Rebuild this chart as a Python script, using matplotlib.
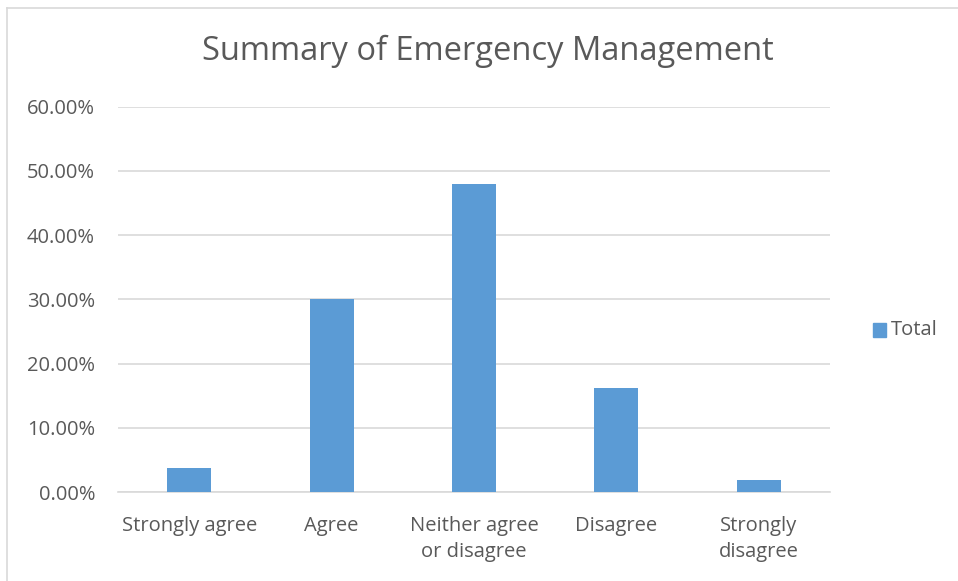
import matplotlib.pyplot as plt
from matplotlib.patches import Rectangle
from matplotlib.ticker import FuncFormatter

# survey responses (share of respondents)
categories = ["Strongly agree", "Agree", "Neither agree\nor disagree", "Disagree", "Strongly\ndisagree"]
totals = [0.037, 0.301, 0.479, 0.162, 0.018]
yticks = [0.0, 0.1, 0.2, 0.3, 0.4, 0.5, 0.6]

bar_color = "#5b9bd5"
text_color = "#595959"
grid_color = "#d9d9d9"

plt.rcParams["font.family"] = ["Open Sans", "DejaVu Sans"]

fig = plt.figure(figsize=(9.58, 5.81), dpi=100)
ax = fig.add_axes([118 / 958, 1 - 492 / 581, 712 / 958, (492 - 106.8) / 581])

x = range(len(categories))
bars = ax.bar(x, totals, width=0.31, color=bar_color, label="Total", zorder=3)

ax.set_xlim(-0.5, len(categories) - 0.5)
ax.set_ylim(0, 0.6)
ax.set_yticks(yticks)
ax.yaxis.set_major_formatter(FuncFormatter(lambda v, p: f"{v * 100:.2f}%"))
ax.set_xticks(list(x))
ax.set_xticklabels(categories, linespacing=1.45)
ax.tick_params(axis="both", length=0, colors=text_color, labelsize=14.5)
ax.tick_params(axis="x", pad=17)
ax.tick_params(axis="y", pad=16.5)
ax.grid(axis="y", color=grid_color, linewidth=1.2, zorder=0)
for s in ["top", "right", "left"]:
    ax.spines[s].set_visible(False)
ax.spines["bottom"].set_color(grid_color)
ax.spines["bottom"].set_linewidth(1.2)

fig.text(488 / 958, 1 - 51 / 581, "Summary of Emergency Management",
         ha="center", va="center", fontsize=23.5, color=text_color)

# legend on the right
fig.patches.append(Rectangle((873 / 958, 1 - 337 / 581), 13 / 958, 14 / 581,
                             transform=fig.transFigure, color=bar_color))
fig.text(891 / 958, 1 - 330 / 581, "Total", ha="left", va="center",
         fontsize=14.5, color=text_color)

# chart frame
fig.add_artist(plt.Line2D([7 / 958, 7 / 958], [0, 1 - 7.5 / 581],
                          transform=fig.transFigure, color=grid_color, linewidth=1.2))
fig.add_artist(plt.Line2D([7 / 958, 1], [1 - 7.5 / 581, 1 - 7.5 / 581],
                          transform=fig.transFigure, color=grid_color, linewidth=1.2))

fig.savefig("out.png", dpi=100, facecolor="white")
